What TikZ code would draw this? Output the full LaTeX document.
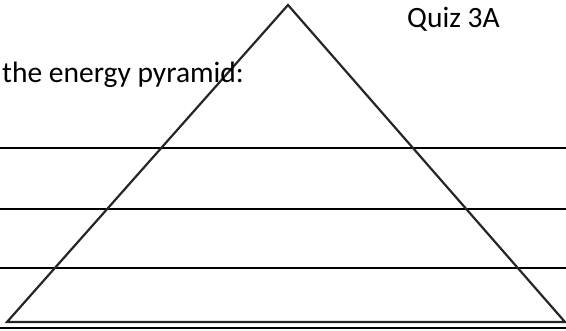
\documentclass[tikz,border=0pt]{standalone}
\usepackage{fontspec}
\setmainfont{Carlito}
\tikzset{
  rule/.style={draw=black, line width=1.1pt},
  pyr/.style={draw=black!85, line width=2.2pt, line join=miter},
  label/.style={inner sep=0pt, anchor=base west, font=\fontsize{29.5}{31}\selectfont}
}
\begin{document}
\begin{tikzpicture}[x=1pt,y=-1pt]
\useasboundingbox (0,0) rectangle (566,331);
% writing lines
\foreach \yy/\nm in {148/a,209/b,268/c,328/d}{
  \coordinate (l\nm) at (0,\yy);
  \coordinate (r\nm) at (566,\yy);
  \draw[rule] (l\nm) -- (r\nm);
}
% pyramid
\coordinate (apex) at (288,5);
\coordinate (bl) at (7,322);
\coordinate (br) at (565,322);
\draw[pyr] (bl) -- (apex) -- (br) -- cycle;
% texts
\node[label] (title) at (407,28) {Quiz 3A};
\node[label] (task) at (2,83) {the energy pyramid:};
\end{tikzpicture}
\end{document}
